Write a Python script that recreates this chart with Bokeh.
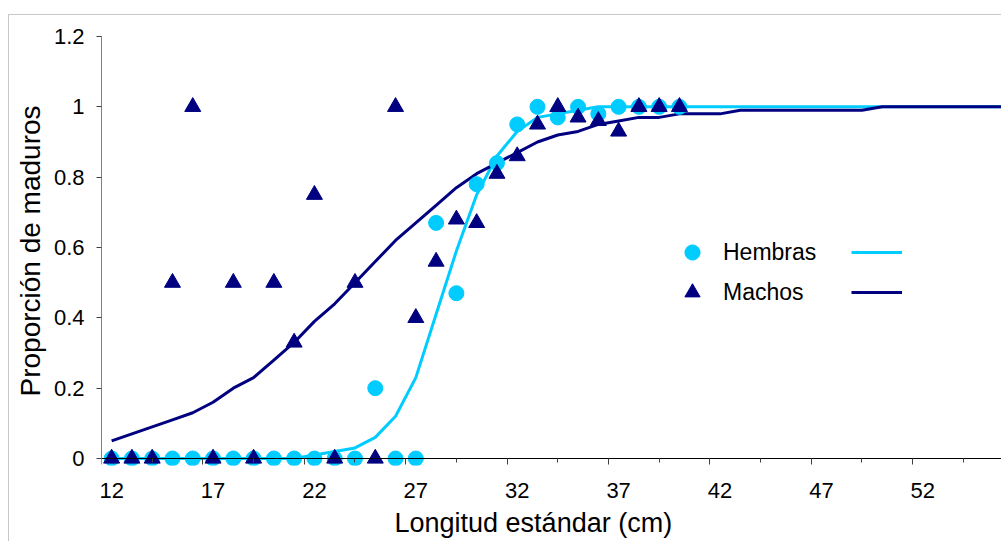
from bokeh.plotting import figure
from bokeh.models import Range1d, LinearAxis, FixedTicker, Legend, LegendItem, Title
from bokeh.embed import file_html
from bokeh.resources import INLINE

FONT = "Liberation Sans"
CYAN = "#00CCFF"
NAVY = "#000080"

# observed proportions
length_cm = list(range(12, 41))
hembras = [0, 0, 0, 0, 0, 0, 0, 0, 0, 0, 0, 0, 0, 0.20, 0, 0,
           0.67, 0.47, 0.78, 0.84, 0.95, 1.0, 0.97, 1.0, 0.98, 1.0, 1.0, 1.0, 1.0]
machos = [0, 0, 0, 0.50, 1.0, 0, 0.50, 0, 0.50, 0.33, 0.75, 0, 0.50, 0, 1.0, 0.40,
          0.56, 0.68, 0.67, 0.81, 0.86, 0.95, 1.0, 0.97, 0.96, 0.93, 1.0, 1.0, 1.0]

# fitted curves
curve_cm = list(range(12, 57))
hembras_fit = [0, 0, 0, 0, 0, 0, 0, 0, 0, 0, 0.01, 0.02, 0.03, 0.06, 0.12, 0.23,
               0.41, 0.59, 0.75, 0.86, 0.93, 0.97, 0.98, 0.99, 1.0, 1.0, 1.0, 1.0,
               1.0, 1.0, 1.0, 1.0, 1.0, 1.0, 1.0, 1.0, 1.0, 1.0, 1.0, 1.0, 1.0,
               1.0, 1.0, 1.0, 1.0]
machos_fit = [0.05, 0.07, 0.09, 0.11, 0.13, 0.16, 0.20, 0.23, 0.28, 0.33, 0.39, 0.44,
              0.50, 0.56, 0.62, 0.67, 0.72, 0.77, 0.81, 0.84, 0.87, 0.90, 0.92, 0.93,
              0.95, 0.96, 0.97, 0.97, 0.98, 0.98, 0.98, 0.99, 0.99, 0.99, 0.99, 0.99,
              0.99, 0.99, 1.0, 1.0, 1.0, 1.0, 1.0, 1.0, 1.0]

x_tick_labels = [12, 17, 22, 27, 32, 37, 42, 47, 52]
x_major_marks = [11.5, 16.5, 21.5, 26.5, 31.5, 36.5, 41.5, 46.5, 51.5]
x_minor_marks = [14, 19, 24, 29, 34, 39, 44, 49, 54]
y_ticks = [0, 0.2, 0.4, 0.6, 0.8, 1, 1.2]
y_tick_labels = ["0", "0.2", "0.4", "0.6", "0.8", "1", "1.2"]

p = figure(width=993, height=527,
           x_range=Range1d(11.5, 55.93), y_range=Range1d(-0.0199, 1.2),
           x_axis_location=None, output_backend="svg", toolbar_location=None,
           min_border_left=92, min_border_right=0, min_border_top=21,
           min_border_bottom=77)
p.styles = {"margin-left": "8px", "margin-top": "14px",
            "border-left": "1px solid #c8c8c8", "border-top": "1px solid #c8c8c8"}
p.outline_line_color = None
p.grid.visible = False
p.background_fill_color = "white"
p.border_fill_color = "white"

line_h = p.line(curve_cm, hembras_fit, line_color=CYAN, line_width=3)
line_m = p.line(curve_cm, machos_fit, line_color=NAVY, line_width=3)
circ = p.scatter(length_cm, hembras, marker="circle", size=15,
                 fill_color=CYAN, line_color=CYAN)
tri = p.scatter(length_cm, machos, marker="triangle", size=16,
                fill_color=NAVY, line_color=NAVY)

# y axis
yax = p.yaxis[0]
yax.ticker = FixedTicker(ticks=y_ticks)
yax.major_label_overrides = dict(zip(y_ticks, y_tick_labels))
yax.bounds = (0, 1.2)
yax.major_tick_out = 5
yax.major_tick_in = 0
yax.minor_tick_out = 0
yax.minor_tick_in = 0
yax.axis_line_color = "#808080"
yax.major_tick_line_color = "#404040"
yax.major_label_standoff = 12
yax.major_label_text_font = FONT
yax.major_label_text_font_size = "22px"
yax.major_label_text_color = "black"
yax.axis_label = "Proporción de maduros"
yax.axis_label_standoff = 5
yax.axis_label_text_font = FONT
yax.axis_label_text_font_size = "28px"
yax.axis_label_text_font_style = "normal"
yax.axis_label_text_color = "black"

# x axis tick labels (bottom panel)
xlab = LinearAxis(ticker=FixedTicker(ticks=x_tick_labels),
                  major_tick_out=0, major_tick_in=0, minor_tick_out=0, minor_tick_in=0,
                  axis_line_color=None, major_label_standoff=17,
                  major_label_text_font=FONT, major_label_text_font_size="22px",
                  major_label_text_color="black")
p.add_layout(xlab, "below")

# x axis title, shifted left like the original
xtitle = Title(text="Longitud estándar (cm)", align="left", offset=293, standoff=10,
               text_font=FONT, text_font_size="27px", text_font_style="normal",
               text_color="black")
p.add_layout(xtitle, "below")

# x axis line and tick marks at y = 0
xtk = LinearAxis(fixed_location=0,
                 ticker=FixedTicker(ticks=x_major_marks, minor_ticks=x_minor_marks),
                 major_tick_out=6, major_tick_in=0, minor_tick_out=4, minor_tick_in=0,
                 major_tick_line_color="#404040", minor_tick_line_color="#404040",
                 axis_line_color="black", major_label_text_alpha=0)
p.add_layout(xtk, "below")

# legends: marker + label, then line
leg1 = Legend(items=[LegendItem(label="Hembras", renderers=[circ]),
                     LegendItem(label="Machos", renderers=[tri])],
              location=(572, 154), glyph_width=38, glyph_height=38,
              label_standoff=12, spacing=2, padding=0, margin=0,
              border_line_color=None, background_fill_alpha=0,
              label_text_font=FONT, label_text_font_size="23px",
              label_text_color="black", label_height=38)
leg2 = Legend(items=[LegendItem(label=" ", renderers=[line_h]),
                     LegendItem(label=" ", renderers=[line_m])],
              location=(750, 154), glyph_width=51, glyph_height=38,
              label_standoff=0, spacing=2, padding=0, margin=0,
              border_line_color=None, background_fill_alpha=0,
              label_text_font=FONT, label_text_font_size="23px", label_height=38)
p.add_layout(leg1)
p.add_layout(leg2)

open("out.html", "w").write(file_html(p, INLINE))
